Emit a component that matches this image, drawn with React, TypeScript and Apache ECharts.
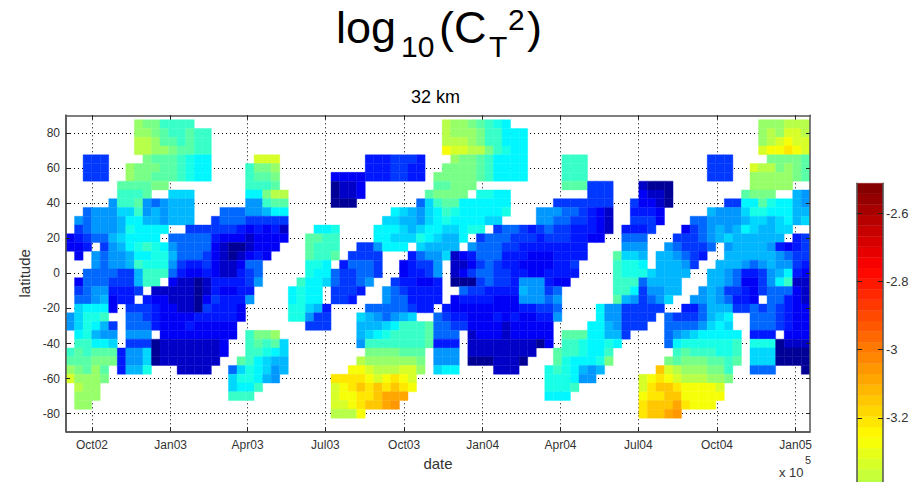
import React, { useEffect, useRef } from "react";
import * as echarts from "echarts";

// Colour-level readings of log10(CT2)
const a=-4.45,b=-4.37,c=-4.27,d=-4.20,e=-4.14,f=-4.05,g=-3.95,h=-3.89,i=-3.83,j=-3.77,k=-3.71;
const l=-3.65,m=-3.58,n=-3.52,o=-3.46,p=-3.40,q=-3.33,r=-3.27,s=-3.21,t=-3.15,u=-3.09,v=-3.06;

// Each run: [first 10-day bin, values...]
const lat85=[[8,o,n,n,l,l,l,l],[44,p,o,o,n,m,l,k,j],[81,o,o,o,p,p,p]];
const lat80=[[8,o,o,n,m,l,l,m,l,l],[44,p,o,o,o,n,l,l,j,j,j],[81,o,p,o,q,q,p]];
const lat75=[[8,p,p,o,m,m,l,m,l,l],[44,p,p,p,o,n,l,l,j,j,j],[81,o,p,q,r,q,q]];
const lat70=[[8,p,p,o,o,n,m,m,l,l],[44,r,q,q,p,p,n,l,k,j,j],[81,q,r,r,s,r,q]];
const lat65=[[2,e,e,e],[9,n,m,m,m,l,k,j,j],[22,q,q,q],[35,d,d,d,e,e,e,d],[45,o,n,n,m,l,j,j,j,j],[58,l,l,l],[75,e,e,e],[82,n,n,n,n,m]];
const lat60=[[2,e,e,e],[7,o,n,n,n,m,m,l,k,j,j],[21,l,n,n,o],[35,d,d,d,e,e,d,d],[44,n,n,n,n,m,l,j,j,j,j],[58,l,l,l],[75,e,e,e],[80,q,p,p,n,o,n,m]];
const lat55=[[2,e,e,e],[7,o,n,n,m,m,m,l,k,j,j],[21,l,m,m,n],[31,c,c,c,c,d,d,d,e,e,d,d],[43,n,n,n,n,n,m,l,j,j,j,j],[58,l,l,l],[75,e,e,e],[80,o,o,o,o,o,n,m]];
const lat50=[[6,m,m,m,m,n,n],[21,l,l,l,m],[31,a,b,b,c],[43,m,m,n,n,n],[58,m,m,m,e,e,e],[67,b,a,a,a],[80,o,o,o,o,o]];
const lat45=[[6,l,l,l,m],[12,i,i,i],[21,j,j,n,p,p],[31,a,b,b,c],[42,m,n,n,n,n],[48,k,k,j,j],[61,e,e,e],[67,c,b,b,a],[79,m,n,n,n],[85,h,g]];
const lat40=[[5,g,l,l,m,g,f,g,h,h,h],[21,g,g,l,m,m],[31,a,a,a],[41,f,i,l,m,m,j,j,j,j,j,j],[57,e,e,e,e,e,e,e],[66,e,c,c,b,a],[77,e,e,j,j,m,k,j,j,h,g]];
const lat35=[[2,f,g,g,g,i,i,l,g,h,g,h,h,h],[18,f,f,f,g,g,h,j,j],[38,j,i,h,g,i,j,l,k,j,j,j,j,j,k],[55,g,g,g,f,f,e,d,c,b],[66,d,d,d,c],[75,h,g,g,g,i,k,k,j,j,j,h,h]];
const lat30=[[1,g,f,g,g,g,h,j,j,h,h,g,h,h,h],[17,e,f,f,f,e,e,e,e,e],[37,i,i,h,h,g,i,j,k,j,j,j,j,i,i],[55,g,g,f,f,e,e,d,c,b],[66,e,e,e,c],[73,f,f,g,g,g,g,h,i,i,h,i,j,h,i]];
const lat25=[[1,e,f,g,g,g,h,k,j,j,j,j],[14,e,e,e,e,e,e,d,c,d,c,d,b],[29,j,j,k],[36,j,j,j,i,h,i,j,j,i,i,j,k,k],[50,e,f,f,e,d,e,f,e,e,d,d,d,c,b],[65,d,d,d,e],[72,c,e,f,g,h,g,h,j,i,h,h,i,i]];
const lat20=[[0,c,d,e,f,f,h,i,j,j,j,j],[12,f,f,f,f,f,d,c,c,c,b,c,c,c,c],[28,m,m,l,l],[36,j,j,i,i,i,k,j,i,h,h,j],[48,e,f,f,f,e,e,e,d,e,e,e,d,d,c,c],[65,f,f,f],[71,e,e,e,f,g,h,i,h,h,h,h,h,h],[85,d,e]];
const lat15=[[0,c,c,d],[4,e,g,h,j,k,l,k,j,g,f,f,f,f,c,b,a,a,b,c,c,c],[28,m,l,l,l],[34,e,e,g,j,j,j],[41,i,h,h,h,h],[47,g,f,f,f,e,e,d,d,d,d,d,d,d,d],[65,g,g,g],[70,g,f,e,e,e,f],[77,g,h,h,h,h,g,d,c,d,e]];
const lat10=[[1,c],[3,g,f,g,g,h,j,j,k,k,h,f,f,f,e,c,b,a,b,c,d,c],[28,m,l,l,m],[33,e,e,e,e],[40,d,f,g,g,i,b,c,d,f,f,f,d,d,d,c,c,c,d,d,d,d],[64,m,i,i,h],[69,h,h,g,f,e,d],[77,h,h,h,h,h,h,g,f,e,e]];
const lat5=[[3,g,f,g,g,h,l,k,k,k,g,e,d,d,e,c,b,b,c,f,f],[28,k,k,j],[32,d,f,f,f,e],[39,c,d,e,e,g],[45,b,b,c,e,f,e,d,d,c,c,c,c,d,d,e],[64,l,k,k,j],[69,h,h,h,g,e],[76,h,h,h,g,f,g,h,g,g,e,d]];
const lat0=[[2,f,f,f,f,e,e,h,l,l,l,f,d,c,c,d,c,b,b,d,e,f],[28,k,j,j,f,e,e,f,f,e],[39,c,d,d,e,g],[45,b,c,e,f,f,e,e,d,d,c,c,d,d,d,d],[64,l,k,k,k,i,h,h,h,h],[75,h,h,g,f,d,d,e,g,h,j,d,c]];
const latS5=[[1,c,f,f,f,e,e,e,h,l,l],[12,c,b,b,a,b,d,d,d,d,e,g],[27,l,j,j,i,f,e,e,f,g],[38,e,d,d,c,c,d],[45,a,a,a,e,f,e,e,d,g,g,g,d,c,c],[64,l,l,l,f,h,h,h,h],[75,h,h,g,f,c,c,e,g,j,l,b,b]];
const latS10=[[1,e,f,g,g,d,d,d,e],[10,b,b,b,b,b,a,b,d,c,c,d,d],[26,j,k,j,j],[31,e,e,e,d],[37,g,f,e,d,d,d,d],[46,f,e,e,d,d,d,d,h,g,g,e,f],[64,l,l,j,e,g,g,h,h],[74,g,h,g,e,e,d,c,e,f,f,f,c,b]];
const latS15=[[1,f,f,g,h,c,d,d],[9,d,c,c,b,b,b,a,c,e,d,d,d,g],[26,j,k,j,j],[31,e,e,d],[37,g,f,f,d,d,d,d],[45,c,d,d,d,d,c,c,c,g,g,g,f,g],[64,m,h,g,e,f,g,i],[73,g,g,h,g,f,d,d,c],[82,f,f,d,c,b]];
const latS20=[[1,i,j,j,j,c],[7,e,e,e,d,c,c,b,b,a,e,d,d,d,c],[26,k,k,i,h,d],[35,f,f,f,f,f,e,d,d],[44,d,c,c,c,c,c,c,c,c,d,d,e,e,f],[62,j,g,g,e,e,e,e,e],[72,d,d,f,h,h,h,e,e,f,e,f,e,d,c,c]];
const latS25=[[0,g,i,k,k,l],[7,f,f,e,d,c,c,c,c,d,d,d,d,d,c],[26,k,k,g,e,e],[34,i,h,g,f,g,h,i],[43,f,e,d,d,c,c,c,d,c,d,c,c,d,d,g],[62,j,g,g,e,e,e,e],[70,f,e,e,e,f,h,i,j],[80,f,f,f,e,d,c,c]];
const latS30=[[0,g,i,k,j,h,e],[7,f,f,f,d,c,c,c,d,c,c,c,c,c],[28,e,e,e],[34,h,h,h,i,j,l,l,l,m,f,f,e,e,c,c,c,c,b,c,c,c,c,c],[61,j,j,h,g,e,e,e],[70,f,f,f,f,g,i,j,i],[80,f,f,f,e,d,c,c]];
const latS35=[[1,j,k,h,g,g],[7,g,g,g],[11,c,c,c,c,c,c,c,c,c],[21,l,n,n,o],[34,h,i,j,k,l,l,l,l,m,f,f,f],[47,b,c,c,c,b,c,c,c,c,c],[58,m,m,m,j,j,h,h,e],[70,f,g,h,i,j,j,j,j,j],[80,d,d,d],[84,c,c,c]];
const latS40=[[1,l,l,j,j,i],[7,e,e,e,a,b,b,b,b,b,b,b,c],[21,l,m,l,m,i],[34,g,l,l,l,l,l,l,l,m,d,d,d],[47,b,b,b,b,b,b,b,b,a,c],[58,l,l,k,j,j,k,j],[70,f,j,k,k,k,k,k,k,l],[80,k,k,k,a,b,b,b]];
const latS45=[[0,l,m,l,m,m,m,d,g,g,i,a,b,b,b,b,b,b,b,c],[21,l,l,k,j,i],[35,n,n,n,n,m,m,m],[43,g,g,g],[47,b,b,b,b,b,b,b,b],[57,m,l,l,k,j,j,l],[71,l,m,l,l,l,k,k,l],[80,i,i,i,a,a,a,a]];
const latS50=[[0,m,m,m,n,n,n,d,g,g,i,a,b,b,b,b,b,b,b],[20,m,l,j,i,h,h],[34,p,o,o,o,o,o,o,n],[43,g,g,g],[47,a,a,a,b,b,b,a],[57,m,k,j,j,j,k,n],[70,n,m,n,n,n,m,m,l,m],[80,i,i,i,a,a,a,a]];
const latS55=[[0,o,n,m,o,m],[6,d,h,h,k],[13,b,b,b,b],[19,f,i,k,j,i,g,h],[33,r,r,q,p,p,p,q,q,o],[43,i,j,j],[50,b,b,b],[56,k,l,k,j,h,g,h],[69,t,q,p,o,o,o,n,n,l],[80,f,f,f],[86,a]];
const latS60=[[0,q,o,o,o,n],[19,i,k,k,j,h,g],[31,s,s,s,s,r,q,r,s,r,q],[56,k,k,k,j,g,g],[67,q,r,s,r,q,p,p,p,o,o,n]];
const latS65=[[1,p,o,o],[19,i,j,j,l],[31,q,r,s,t,s,t,s,t,s,r],[56,k,k,k,l],[67,q,s,t,t,s,r,r,r,r,q]];
const latS70=[[1,o,o,o],[19,l,l,l],[31,q,r,r,s,s,t,u,u,u],[56,j,j,j],[67,r,s,s,t,t,r,r,r,r,r]];
const latS75=[[1,o,o],[31,q,q,r,s,t,t,u,v],[67,s,t,t,t,u,s,r,r,r]];
const latS80=[[31,p,p,p,r],[67,s,t,t,u,v]];

const latitudes=[85,80,75,70,65,60,55,50,45,40,35,30,25,20,15,10,5,0,-5,-10,-15,-20,-25,-30,-35,-40,-45,-50,-55,-60,-65,-70,-75,-80];
const latRows=[lat85,lat80,lat75,lat70,lat65,lat60,lat55,lat50,lat45,lat40,lat35,lat30,lat25,lat20,lat15,lat10,lat5,lat0,latS5,latS10,latS15,latS20,latS25,latS30,latS35,latS40,latS45,latS50,latS55,latS60,latS65,latS70,latS75,latS80];

// Days since 1 Oct 2002
const dateTicks=[0,92,182,273,365,457,548,639,731,823];
const dateLabels=["Oct02","Jan03","Apr03","Jul03","Oct03","Jan04","Apr04","Jul04","Oct04","Jan05"];
const latTicks=[-80,-60,-40,-20,0,20,40,60,80];
const barTicks=[-3.4,-3.2,-3,-2.8,-2.6];

const DAY_MIN=-30.4, DAY_MAX=839.8, BIN_DAYS=10, LAT_STEP=5;
const C_MIN=-4.5, C_MAX=-2.512, LEVELS=64;
const FONT='"Liberation Sans", Arial, sans-serif';
const INK="#333333", FRAME="#555555";

function jetColor(idx:number){
  const x=(idx+0.5)/LEVELS;
  const ch=(val:number)=>Math.round(Math.max(0,Math.min(1,val))*255);
  const red=Math.min(4*x-1.5,-4*x+4.5), green=Math.min(4*x-0.5,-4*x+3.5), blue=Math.min(4*x+0.5,-4*x+2.5);
  return `rgb(${ch(red)},${ch(green)},${ch(blue)})`;
}
function colorOf(val:number){
  const idx=Math.max(0,Math.min(LEVELS-1,Math.floor((val-C_MIN)/(C_MAX-C_MIN)*LEVELS)));
  return jetColor(idx);
}

const cells:number[][]=[];
latRows.forEach((runs,rowIdx)=>{
  runs.forEach((run)=>{
    const first=run[0];
    run.slice(1).forEach((val,pos)=>{
      cells.push([DAY_MIN+BIN_DAYS*(first+pos+0.5),latitudes[rowIdx],val]);
    });
  });
});
const barLevels:number[][]=[];
for(let idx=0;idx<LEVELS;idx++){
  const lo=C_MIN+(C_MAX-C_MIN)*idx/LEVELS, hi=C_MIN+(C_MAX-C_MIN)*(idx+1)/LEVELS;
  barLevels.push([lo,hi,idx]);
}

const renderCell=(_p:any,api:any)=>{
  const x0=api.value(0), y0=api.value(1), val=api.value(2);
  const tl=api.coord([x0-BIN_DAYS/2,y0+LAT_STEP/2]);
  const br=api.coord([x0+BIN_DAYS/2,y0-LAT_STEP/2]);
  const col=colorOf(val);
  return {type:"rect",shape:{x:tl[0],y:tl[1],width:br[0]-tl[0],height:br[1]-tl[1]},style:{fill:col,stroke:col,lineWidth:0.4}};
};
const renderLevel=(_p:any,api:any)=>{
  const tl=api.coord([0,api.value(1)]);
  const br=api.coord([1,api.value(0)]);
  const col=jetColor(api.value(2));
  return {type:"rect",shape:{x:tl[0],y:tl[1],width:br[0]-tl[0],height:br[1]-tl[1]},style:{fill:col,stroke:col,lineWidth:0.4}};
};

const dotted={show:true,lineStyle:{color:"#000000",width:1,type:[1,3] as any}};
const frameLine={show:true,onZero:false,lineStyle:{color:FRAME,width:1.5}};
const inTick=(values:number[])=>({show:true,inside:true,length:4,customValues:values,lineStyle:{color:"#222222",width:1}});

// y is the text's alphabetic baseline; graphic text sits about 0.84 em above it
const T=(text:string,x:number,y:number,fontSize:number,extra:any={})=>({
  type:"text",x,y:y-0.84*fontSize,z:20,style:{text,fontSize,fontFamily:FONT,fill:"#000000",...extra},
});

export default function App(){
  const ref=useRef<HTMLDivElement>(null);
  useEffect(()=>{
    document.body.style.margin="0";
    const chart=echarts.init(ref.current!,undefined,{renderer:"svg"});
    const xBase={type:"value",min:DAY_MIN,max:DAY_MAX,gridIndex:0,splitLine:{show:false},axisLabel:{show:false},axisLine:frameLine,axisTick:inTick(dateTicks)};
    const yBase={type:"value",min:-90,max:90,gridIndex:0,splitLine:{show:false},axisLabel:{show:false},axisLine:frameLine,axisTick:inTick(latTicks)};
    chart.setOption({
      animation:false,
      backgroundColor:"#ffffff",
      grid:[
        {left:66,top:115.3,width:744,height:316,outerBoundsMode:"none"},
        {left:857,top:183.3,width:26,height:678,outerBoundsMode:"none"},
      ],
      xAxis:[
        {...xBase,position:"bottom",splitLine:dotted,
          name:"date",nameLocation:"middle",nameGap:25,nameTextStyle:{fontFamily:FONT,fontSize:15,color:INK},
          axisLabel:{show:true,customValues:dateTicks,margin:8,fontFamily:FONT,fontSize:12,color:INK,
            formatter:(val:number)=>dateLabels[dateTicks.indexOf(val)]??""}},
        {...xBase,position:"top",z:5},
        {...xBase,position:"bottom",z:5},
        {type:"value",gridIndex:1,min:0,max:1,show:false,splitLine:{show:false}},
      ],
      yAxis:[
        {...yBase,position:"left",splitLine:dotted,
          name:"latitude",nameLocation:"middle",nameGap:32,nameTextStyle:{fontFamily:FONT,fontSize:15,color:INK},
          axisLabel:{show:true,customValues:latTicks,margin:6,fontFamily:FONT,fontSize:12,color:INK}},
        {...yBase,position:"right",z:5},
        {...yBase,position:"left",z:5},
        {type:"value",gridIndex:1,min:C_MIN,max:C_MAX,position:"right",z:5,splitLine:{show:false},
          axisLine:frameLine,axisTick:{...inTick(barTicks),length:5},
          axisLabel:{show:true,customValues:barTicks,margin:3,fontFamily:FONT,fontSize:13,color:INK,
            formatter:(val:number)=>String(val)}},
        {type:"value",gridIndex:1,min:C_MIN,max:C_MAX,position:"left",z:5,splitLine:{show:false},
          axisLine:frameLine,axisTick:{...inTick(barTicks),length:5},axisLabel:{show:false}},
      ],
      series:[
        {type:"custom",xAxisIndex:0,yAxisIndex:0,clip:true,silent:true,data:cells,renderItem:renderCell,encode:{x:0,y:1}},
        {type:"custom",xAxisIndex:3,yAxisIndex:3,silent:true,data:barLevels,renderItem:renderLevel,encode:{y:[0,1]}},
      ],
      graphic:[
        T("log",336,43,45),
        T("10",401,57,30),
        T("(C",439,43,45),
        T("T",489,57,30),
        T("2",508,30,30),
        T(")",527,43,45),
        T("32 km",435.5,103,18,{textAlign:"center"}),
        T("x 10",779,477,13,{fill:INK}),
        T("5",805,464,11,{fill:INK}),
      ],
    });
    return ()=>chart.dispose();
  },[]);
  return <div ref={ref} style={{width:914,height:482}}/>;
}
